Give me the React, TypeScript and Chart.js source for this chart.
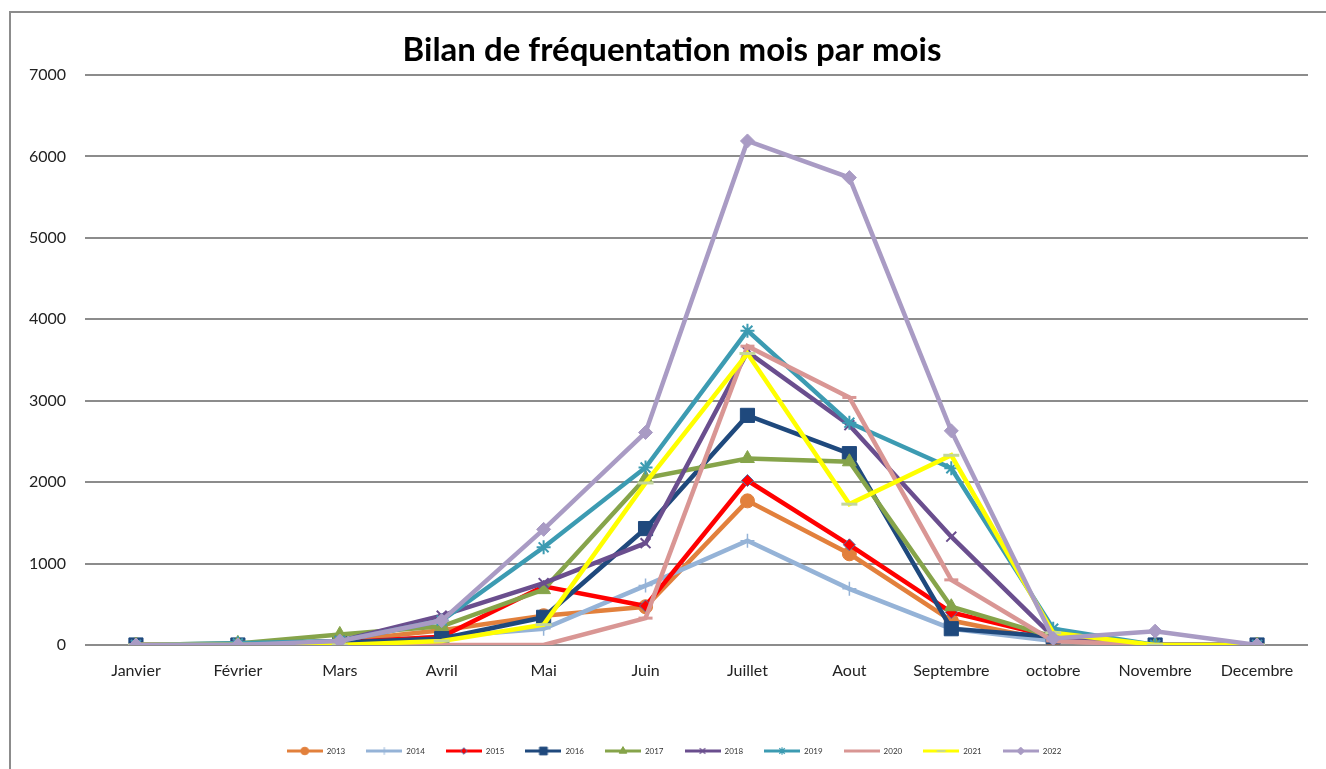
import React, { useEffect, useRef } from "react";
import { Chart, registerables } from "chart.js";
import { drawPoint } from "chart.js/helpers";

Chart.register(...registerables);

const months = ["Janvier", "Février", "Mars", "Avril", "Mai", "Juin", "Juillet", "Aout", "Septembre", "octobre", "Novembre", "Decembre"];
const yTicks = [0, 1000, 2000, 3000, 4000, 5000, 6000, 7000];

const s2013 = [0, 0, 50, 180, 360, 470, 1770, 1120, 300, 50, 0, 0];
const s2014 = [0, 0, 30, 100, 200, 730, 1280, 690, 200, 50, 0, 0];
const s2015 = [0, 0, 30, 100, 720, 480, 2020, 1230, 400, 100, 0, 0];
const s2016 = [0, 0, 30, 80, 340, 1430, 2820, 2350, 200, 100, 0, 0];
const s2017 = [0, 20, 130, 230, 680, 2050, 2290, 2250, 470, 100, 0, 0];
const s2018 = [0, 0, 50, 360, 760, 1250, 3600, 2700, 1330, 100, 0, 0];
const s2019 = [0, 20, 50, 300, 1200, 2180, 3860, 2730, 2170, 200, 0, 0];
const s2020 = [0, 0, 0, 0, 0, 330, 3670, 3040, 800, 50, 0, 0];
const s2021 = [0, 0, 0, 50, 250, 1990, 3580, 1730, 2330, 150, 0, 0];
const s2022 = [0, 0, 50, 300, 1420, 2610, 6190, 5740, 2630, 80, 170, 0];

const years = ["2013", "2014", "2015", "2016", "2017", "2018", "2019", "2020", "2021", "2022"];
const seriesValues = [s2013, s2014, s2015, s2016, s2017, s2018, s2019, s2020, s2021, s2022];
const lineColors = ["#E2803C", "#95B3D7", "#FF0000", "#1F497D", "#86A44A", "#6A4E8E", "#3C9BB2", "#D99694", "#FFFF00", "#A99BC4"];
const markerFill = ["#E2803C", "#95B3D7", "#FF0000", "#1F497D", "#86A44A", "#6A4E8E", "#3C9BB2", "#D99694", "#C3D69B", "#A99BC4"];
const markerBorder = ["#E2803C", "#95B3D7", "#4F6FA8", "#1F497D", "#86A44A", "#6A4E8E", "#3C9BB2", "#D99694", "#C3D69B", "#A99BC4"];
const markerStyles = ["circle", "cross", "rectRot", "rect", "triangle", "crossRot", "star", "line", "line", "rectRot"];
const markerRadius = [7, 7, 6, 10, 8, 7, 7, 7, 8, 7];
const markerBorderWidth = [1, 1.5, 1, 1, 1, 2, 2, 3, 3, 1];

function makeLegendImage(i: number) {
  const c = document.createElement("canvas");
  c.width = 36;
  c.height = 10;
  const ctx = c.getContext("2d")!;
  ctx.strokeStyle = lineColors[i];
  ctx.lineWidth = 3;
  ctx.beginPath();
  ctx.moveTo(0, 5);
  ctx.lineTo(36, 5);
  ctx.stroke();
  ctx.fillStyle = markerFill[i];
  ctx.strokeStyle = markerBorder[i];
  ctx.lineWidth = Math.max(1, markerBorderWidth[i] * 0.6);
  drawPoint(ctx, { pointStyle: markerStyles[i], radius: markerRadius[i] * 0.55, rotation: 0, borderWidth: ctx.lineWidth } as any, 18, 5);
  return c;
}

export default function App() {
  const ref = useRef<HTMLCanvasElement>(null);
  useEffect(() => {
    const images = years.map((_, i) => makeLegendImage(i));
    const framePlugin = {
      id: "frame",
      afterLayout(chart: any) {
        if (chart.legend) {
          chart.legend.left += 20;
          chart.legend.right += 20;
        }
      },
      beforeDraw(chart: any) {
        const ctx = chart.ctx;
        ctx.save();
        ctx.fillStyle = "#ffffff";
        ctx.fillRect(0, 0, chart.width, chart.height);
        ctx.strokeStyle = "#8C8C8C";
        ctx.lineWidth = 2;
        ctx.beginPath();
        ctx.moveTo(10, 769);
        ctx.lineTo(10, 12);
        ctx.lineTo(1326, 12);
        ctx.stroke();
        ctx.fillStyle = "#000";
        ctx.font = "bold 33px Lato";
        ctx.textAlign = "center";
        ctx.textBaseline = "middle";
        ctx.fillText("Bilan de fréquentation mois par mois", 672, 50);
        ctx.restore();
      },
    };
    const chart = new Chart(ref.current!, {
      type: "line",
      data: {
        labels: months,
        datasets: years.map((y, i) => ({
          label: y,
          data: seriesValues[i],
          borderColor: lineColors[i],
          backgroundColor: markerFill[i],
          borderWidth: 4.5,
          pointStyle: markerStyles[i] as any,
          pointRadius: markerRadius[i],
          pointBackgroundColor: markerFill[i],
          pointBorderColor: markerBorder[i],
          pointBorderWidth: markerBorderWidth[i],
          tension: 0,
          order: 9 - i,
        })),
      },
      options: {
        animation: false,
        responsive: false,
        layout: { padding: { top: 75, right: 18, left: 0, bottom: 4 } },
        scales: {
          x: {
            offset: true,
            grid: { display: false, drawTicks: false, offset: true },
            border: { display: false },
            ticks: { color: "#222", font: { family: "Lato", size: 16 }, padding: 16, maxRotation: 0, autoSkip: false },
            afterFit: (s: any) => { s.height = 81; },
          },
          y: {
            min: 0,
            max: 7000,
            afterBuildTicks: (s: any) => { s.ticks = yTicks.map((v) => ({ value: v })); },
            grid: { color: "#8C8C8C", lineWidth: 2, drawTicks: false },
            border: { display: false },
            ticks: { color: "#222", font: { family: "Lato", size: 16 }, padding: 19, callback: (v: any) => String(v) },
            afterFit: (s: any) => { s.width = 85; },
          },
        },
        plugins: {
          title: { display: false },
          tooltip: { enabled: false },
          legend: {
            position: "bottom",
            labels: {
              usePointStyle: true,
              pointStyleWidth: 36,
              padding: 21,
              color: "#333",
              font: { family: "Lato", size: 8 },
              sort: (a: any, b: any) => a.datasetIndex - b.datasetIndex,
              generateLabels: (c: any) => {
                const items = (Chart.defaults.plugins.legend.labels.generateLabels as any)(c);
                return items.map((it: any) => ({ ...it, pointStyle: images[it.datasetIndex] }));
              },
            },
          },
        },
      },
      plugins: [framePlugin],
    });
    return () => chart.destroy();
  }, []);
  return (
    <div style={{ position: "fixed", left: 0, top: 0, width: 1326, height: 769, background: "#fff" }}>
      <canvas ref={ref} width={1326} height={769} style={{ display: "block" }} />
    </div>
  );
}
